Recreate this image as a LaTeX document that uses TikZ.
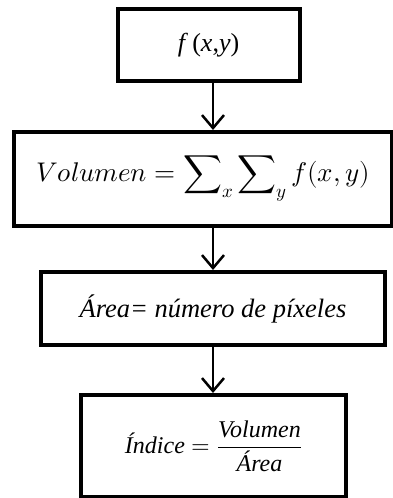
\documentclass[tikz,border=0pt]{standalone}
\usepackage{amsmath}
\usepackage{fontspec}
\usepackage{unicode-math}
\setmainfont{Liberation Serif}
\setmathfont{Latin Modern Math}
\usetikzlibrary{arrows.meta}

\begin{document}
\begin{tikzpicture}[x=1pt,y=-1pt]
          \tikzstyle{caja}=[draw,line width = 4pt,inner sep=0pt,font=\fontsize{24}{28}\selectfont]
          \tikzstyle{flecha}=[draw,line width = 2.5pt,-{Straight Barb[length=13pt,width=22pt,line width=2.5pt]}]
          \useasboundingbox (0,0) rectangle (393,498);
          \node[caja,minimum width=182pt,minimum height=72pt,font=\fontsize{26}{30}\selectfont] (fxy) at (208.5,45) {\textit{f}\,(\textit{x},\textit{y})};
          \node[caja,minimum width=378pt,minimum height=94pt,font=\fontsize{27}{31}\selectfont] (vol) at (203,179) {$\displaystyle Volumen = \sum\nolimits_x \sum\nolimits_y f(x,y)$};
          \node[caja,minimum width=344pt,minimum height=73pt,font=\fontsize{26.5}{30}\selectfont] (area) at (213,308.5) {\textit{Área= número de píxeles}};
          \node[caja,minimum width=265pt,minimum height=102pt] (ind) at (213.5,446) {$\textit{Índice} = \dfrac{\textit{Volumen}}{\textit{Área}}$};
          \coordinate (eje) at (213,0);
          \draw[flecha] (fxy.south -| eje) -- (vol.north -| eje);
          \draw[flecha] (vol.south -| eje) -- (area.north -| eje);
          \draw[flecha] (area.south -| eje) -- (ind.north -| eje);
\end{tikzpicture}
\end{document}
